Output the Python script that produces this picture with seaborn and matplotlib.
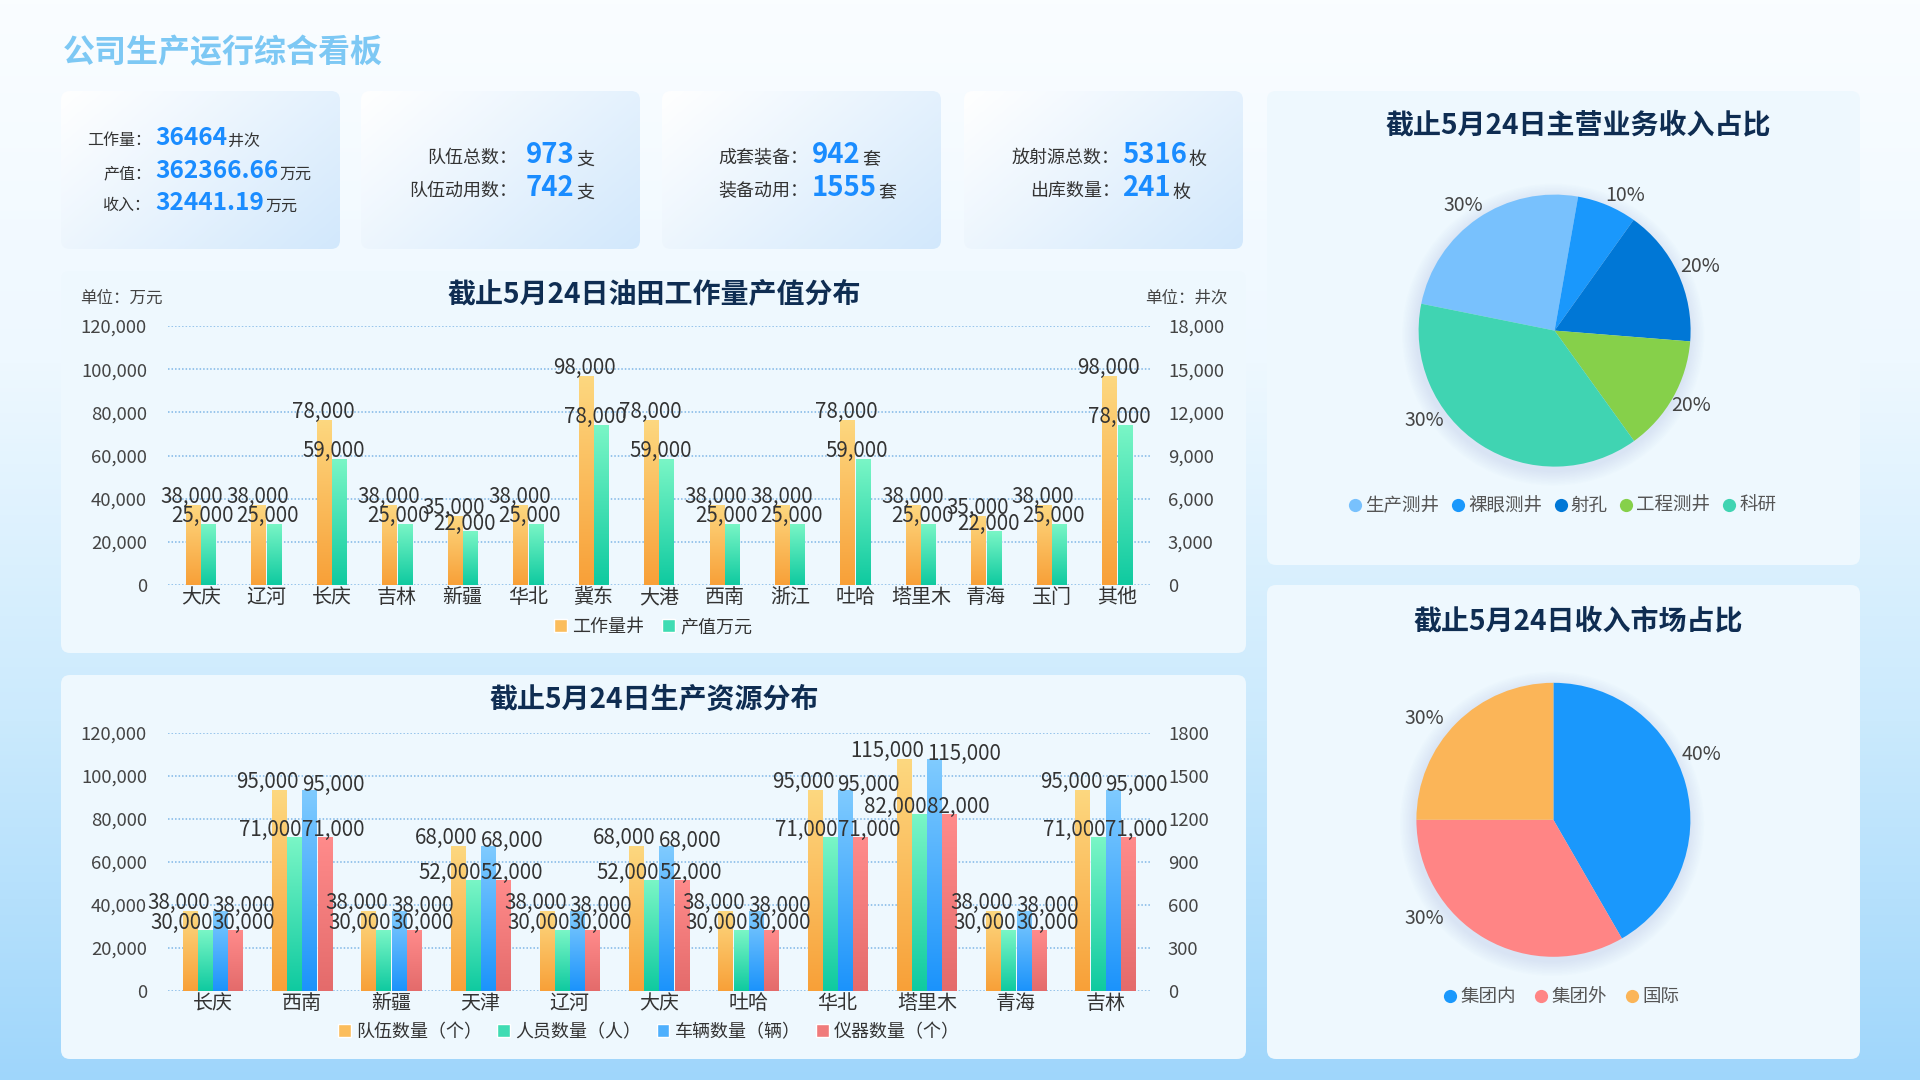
import numpy as np
import pandas as pd
import matplotlib
matplotlib.use("Agg")
import matplotlib.pyplot as plt
import seaborn as sns
from matplotlib.colors import LinearSegmentedColormap
from matplotlib.patches import FancyBboxPatch, Patch, Circle
from matplotlib.lines import Line2D

W, H = 1920, 1080

# ---- data ----
kpi_card1_labels = ["工作量：", "产值：", "收入："]
kpi_card1_values = ["36464", "362366.66", "32441.19"]
kpi_card1_units = ["井次", "万元", "万元"]
kpi_team_labels = ["队伍总数：", "队伍动用数："]
kpi_team_values = ["973", "742"]
kpi_equip_labels = ["成套装备：", "装备动用："]
kpi_equip_values = ["942", "1555"]
kpi_source_labels = ["放射源总数：", "出库数量："]
kpi_source_values = ["5316", "241"]

oil_fields = ["大庆", "辽河", "长庆", "吉林", "新疆", "华北", "冀东", "大港",
              "西南", "浙江", "吐哈", "塔里木", "青海", "玉门", "其他"]
workload = [37200, 37200, 76500, 37200, 32100, 37200, 96900, 76500,
            37200, 37200, 76500, 37200, 32100, 37200, 96900]
output_value = [28400, 28400, 58300, 28400, 24800, 28400, 74000, 58300,
                28400, 28400, 58300, 28400, 24800, 28400, 74000]
workload_text = [38000, 38000, 78000, 38000, 35000, 38000, 98000, 78000,
                 38000, 38000, 78000, 38000, 35000, 38000, 98000]
output_text = [25000, 25000, 59000, 25000, 22000, 25000, 78000, 59000,
               25000, 25000, 59000, 25000, 22000, 25000, 78000]

regions = ["长庆", "西南", "新疆", "天津", "辽河", "大庆", "吐哈", "华北", "塔里木", "青海", "吉林"]
teams = [37200, 93700, 37200, 67400, 37200, 67400, 37200, 93700, 107800, 37200, 93700]
staff = [28300, 71500, 28300, 51600, 28300, 51600, 28300, 71500, 82200, 28300, 71500]
vehicles = [37200, 93700, 37200, 67400, 37200, 67400, 37200, 93700, 107800, 37200, 93700]
instruments = [28300, 71500, 28300, 51600, 28300, 51600, 28300, 71500, 82200, 28300, 71500]
teams_text = [38000, 95000, 38000, 68000, 38000, 68000, 38000, 95000, 115000, 38000, 95000]
staff_text = [30000, 71000, 30000, 52000, 30000, 52000, 30000, 71000, 82000, 30000, 71000]
vehicles_text = [38000, 95000, 38000, 68000, 38000, 68000, 38000, 95000, 115000, 38000, 95000]
instruments_text = [30000, 71000, 30000, 52000, 30000, 52000, 30000, 71000, 82000, 30000, 71000]

business = ["生产测井", "裸眼测井", "射孔", "工程测井", "科研"]
business_share = [24.6, 7.1, 16.4, 13.8, 38.1]
business_text = ["30%", "10%", "20%", "20%", "30%"]
market = ["集团内", "集团外", "国际"]
market_share = [5, 4, 3]
market_text = ["40%", "30%", "30%"]

sns.set_style("white")
plt.rcParams["font.family"] = ["Noto Sans CJK SC", "DejaVu Sans"]
plt.rcParams["axes.unicode_minus"] = False


def pt(px):
    return px * 0.72


fig = plt.figure(figsize=(19.2, 10.8), dpi=100)
bg = fig.add_axes([0, 0, 1, 1])
bg.axis("off")

page_cmap = LinearSegmentedColormap.from_list(
    "page", ["#fafdff", "#eef8ff", "#cbeafd", "#9fd6fb"])
bg.imshow(np.linspace(0, 1, 256).reshape(-1, 1), extent=[0, W, H, 0],
          cmap=page_cmap, aspect="auto", zorder=0)


def panel(x, y, w, h, color="#eef8fe", r=9):
    p = FancyBboxPatch((x + r, y + r), w - 2 * r, h - 2 * r,
                       boxstyle=f"round,pad={r}", fc=color, ec="none", zorder=1)
    bg.add_patch(p)
    return p


def card(x, y, w, h):
    p = panel(x, y, w, h, color="none")
    gx, gy = np.meshgrid(np.linspace(0, 1, 200), np.linspace(0, 1, 120))
    img = bg.imshow(gx * 0.6 + gy * 0.4, extent=[x, x + w, y + h, y],
                    cmap=LinearSegmentedColormap.from_list("card", ["#ffffff", "#d2e8fc"]),
                    aspect="auto", zorder=1)
    img.set_clip_path(p)


for cx in (61, 361, 662, 964):
    card(cx, 91, 279, 158)
panel(61, 271, 1185, 382)
panel(61, 675, 1185, 384)
panel(1267, 91, 593, 474)
panel(1267, 585, 593, 474)

bg.set_xlim(0, W)
bg.set_ylim(H, 0)

bg.text(63, 53, "公司生产运行综合看板", fontsize=pt(32), fontweight="bold",
        color="#7dc8f4", va="center", ha="left")


def kpi_row(label_right, value_left, y, label, value, unit, lsize, vsize):
    bg.text(label_right, y, label, ha="right", va="baseline", fontsize=pt(lsize), color="#333333")
    t = bg.text(value_left, y, value, ha="left", va="baseline", fontsize=pt(vsize),
                color="#1a8cff", fontweight="bold")
    if unit:
        bg.annotate(unit, xy=(1, 0), xycoords=t, xytext=(1, 0), textcoords="offset points",
                    ha="left", va="bottom", fontsize=pt(lsize), color="#333333")


for lab, val, unit, yy in zip(kpi_card1_labels, kpi_card1_values, kpi_card1_units, (145, 178, 210)):
    kpi_row(151, 155, yy, lab, val, unit, 16, 24.5)
for lab, val, yy in zip(kpi_team_labels, kpi_team_values, (163, 196)):
    kpi_row(517, 526, yy, lab, val, "支", 18, 27.5)
for lab, val, yy in zip(kpi_equip_labels, kpi_equip_values, (163, 196)):
    kpi_row(808, 812, yy, lab, val, "套", 18, 27.5)
for lab, val, yy in zip(kpi_source_labels, kpi_source_values, (163, 196)):
    kpi_row(1120, 1122, yy, lab, val, "枚", 18, 27.5)

title_kw = dict(fontsize=pt(28), fontweight="bold", color="#0f2d52", ha="center", va="center")
bg.text(654, 294, "截止5月24日油田工作量产值分布", **title_kw)
bg.text(654, 700, "截止5月24日生产资源分布", **title_kw)
bg.text(1578, 125, "截止5月24日主营业务收入占比", **title_kw)
bg.text(1578, 621, "截止5月24日收入市场占比", **title_kw)
bg.text(80, 298, "单位：万元", fontsize=pt(16.5), color="#444444", va="center", ha="left")
bg.text(1228, 298, "单位：井次", fontsize=pt(16.5), color="#444444", va="center", ha="right")


def add_axes_px(x0, y0, x1, y1):
    return fig.add_axes([x0 / W, 1 - y1 / H, (x1 - x0) / W, (y1 - y0) / H])


def gradient_fill(ax, container, top, bottom):
    cmap = LinearSegmentedColormap.from_list("g", [bottom, top])
    grad = np.linspace(0, 1, 256).reshape(-1, 1)
    for bar in container:
        x, w, h = bar.get_x(), bar.get_width(), bar.get_height()
        bar.set_facecolor("none")
        bar.set_edgecolor("none")
        im = ax.imshow(grad, extent=[x, x + w, 0, h], origin="lower", cmap=cmap,
                       aspect="auto", zorder=2)
        im.set_clip_path(bar)


def style_bar_axes(ax, labels, right_max, right_step, right_fmt):
    ax.set_facecolor("none")
    ax.set_ylim(0, 120000)
    ax.set_yticks(range(0, 120001, 20000))
    ax.set_yticklabels([f"{v:,}" for v in range(0, 120001, 20000)])
    ax.set_xlim(-0.5, len(labels) - 0.5)
    ax.set_xlabel("")
    ax.set_ylabel("")
    sns.despine(ax=ax, left=True, bottom=True)
    ax.yaxis.grid(True, linestyle=(0, (1, 1.3)), color="#7fb6e6", lw=1.1)
    ax.set_axisbelow(True)
    ax.tick_params(axis="y", length=0, pad=pt(21), labelsize=pt(18.5), labelcolor="#444444")
    ax.tick_params(axis="x", length=0, pad=pt(2), labelsize=pt(20), labelcolor="#333333")
    ax2 = ax.twinx()
    ax2.set_ylim(0, right_max)
    ticks = list(range(0, right_max + 1, right_step))
    ax2.set_yticks(ticks)
    ax2.set_yticklabels([right_fmt(v) for v in ticks])
    ax2.tick_params(axis="y", length=0, pad=pt(18), labelsize=pt(18.5), labelcolor="#444444")
    sns.despine(ax=ax2, left=True, bottom=True, right=True)
    ax2.grid(False)


# ---- chart 1: workload / output ----
ax1 = add_axes_px(168, 326, 1150, 585)
df1 = pd.DataFrame({
    "油田": oil_fields * 2,
    "数值": workload + output_value,
    "系列": ["工作量井"] * len(oil_fields) + ["产值万元"] * len(oil_fields),
})
sns.barplot(data=df1, x="油田", y="数值", hue="系列", palette=["#f9a13a", "#10cba0"],
            width=0.47, gap=0.06, errorbar=None, legend=False, saturation=1, ax=ax1)
grads1 = [("#fdd880", "#f8a038"), ("#7af6c6", "#0fcaa0")]
texts1 = [workload_text, output_text]
shifts1 = [-1, -6]
for cont, (top, bottom), txt, sh in zip(ax1.containers, grads1, texts1, shifts1):
    gradient_fill(ax1, cont, top, bottom)
    for bar, v in zip(cont, txt):
        ax1.annotate(f"{v:,}", xy=(bar.get_x() + bar.get_width() / 2, bar.get_height()),
                     xytext=(pt(sh), pt(2)), textcoords="offset points", ha="center",
                     va="baseline", fontsize=pt(20.5), color="#333333", zorder=4)
style_bar_axes(ax1, oil_fields, 18000, 3000, lambda v: f"{v:,}")

fig.legend([Patch(fc="#fbbd5c"), Patch(fc="#3fdcb3")], ["工作量井", "产值万元"],
           loc="center", bbox_to_anchor=(653 / W, 1 - 627 / H), ncol=2, frameon=False,
           fontsize=pt(18), handlelength=0.7, handleheight=0.7, handletextpad=0.3,
           columnspacing=1.0, labelcolor="#333333")

# ---- chart 2: production resources ----
ax2 = add_axes_px(168, 733, 1150, 991)
series2 = ["队伍数量（个）", "人员数量（人）", "车辆数量（辆）", "仪器数量（个）"]
df2 = pd.DataFrame({
    "地区": regions * 4,
    "数值": teams + staff + vehicles + instruments,
    "系列": sum([[s] * len(regions) for s in series2], []),
})
sns.barplot(data=df2, x="地区", y="数值", hue="系列",
            palette=["#f9a13a", "#10cba0", "#1e96fb", "#e86c6c"],
            width=0.68, gap=0.06, errorbar=None, legend=False, saturation=1, ax=ax2)
grads2 = [("#fdd880", "#f8a038"), ("#7af6c6", "#0fcaa0"),
          ("#80cbff", "#1b93fb"), ("#ff8b8b", "#e46b6b")]
texts2 = [teams_text, staff_text, vehicles_text, instruments_text]
place2 = [("right", -3, 2), ("right", 0, 1), ("left", 0, -1), ("left", 0, 1)]
for cont, (top, bottom), txt, (ha, dx, dy) in zip(ax2.containers, grads2, texts2, place2):
    gradient_fill(ax2, cont, top, bottom)
    for i, (bar, v) in enumerate(zip(cont, txt)):
        ax2.annotate(f"{v:,}", xy=(i, bar.get_height()), xytext=(pt(dx), pt(dy)),
                     textcoords="offset points", ha=ha, va="baseline",
                     fontsize=pt(20.5), color="#333333", zorder=4)
style_bar_axes(ax2, regions, 1800, 300, lambda v: f"{v}")

fig.legend([Patch(fc=c) for c in ["#fbbd5c", "#3fdcb3", "#4fb0fd", "#f07b7b"]], series2,
           loc="center", bbox_to_anchor=(649 / W, 1 - 1032 / H), ncol=4, frameon=False,
           fontsize=pt(18), handlelength=0.7, handleheight=0.7, handletextpad=0.3,
           columnspacing=0.85, labelcolor="#333333")


# ---- pies ----
def pie_axes(cx, cy, r, half=210):
    ax = add_axes_px(cx - half, cy - half, cx + half, cy + half)
    return ax, half / r


def draw_pie(cx, cy, r, shares, colors, start, texts, offsets):
    ax, lim = pie_axes(cx, cy, r)
    for k in range(10, 0, -1):
        ax.add_patch(Circle((-0.01, -0.03), 1 + k * 0.011, color="#b3c6f0", alpha=0.035,
                            lw=0, zorder=0))
    ax.pie(shares, colors=colors, startangle=start, counterclock=False,
           wedgeprops=dict(linewidth=0))
    for t, (dx, dy) in zip(texts, offsets):
        ax.text(dx, dy, t, ha="center", va="center", fontsize=pt(19.5), color="#444444")
    ax.set_xlim(-lim, lim)
    ax.set_ylim(-lim, lim)
    ax.set_aspect("equal")
    ax.axis("off")


biz_colors = ["#78c1fd", "#1a98fc", "#0077d6", "#86d04a", "#40d4b2"]
draw_pie(1554.6, 330.6, 136, business_share, biz_colors, 168.6, business_text,
         [(-0.67, 0.92), (0.52, 0.99), (1.07, 0.47), (1.0, -0.55), (-0.96, -0.66)])
mkt_colors = ["#1a98fc", "#ff8585", "#fbb558"]
draw_pie(1553.4, 819.8, 137, market_share, mkt_colors, 90, market_text,
         [(1.08, 0.48), (-0.94, -0.72), (-0.94, 0.74)])


def dot(c):
    return Line2D([], [], marker="o", ls="none", markersize=9.5, markerfacecolor=c,
                  markeredgecolor="none")


fig.legend([dot(c) for c in biz_colors], business, loc="center",
           bbox_to_anchor=(1562 / W, 1 - 506 / H), ncol=5, frameon=False, fontsize=pt(18.5),
           handlelength=0.8, handletextpad=0.15, columnspacing=0.6, labelcolor="#555555")
fig.legend([dot(c) for c in mkt_colors], market, loc="center",
           bbox_to_anchor=(1561 / W, 1 - 997 / H), ncol=3, frameon=False, fontsize=pt(18.5),
           handlelength=0.8, handletextpad=0.15, columnspacing=0.95, labelcolor="#555555")

fig.savefig("out.png", dpi=100)
